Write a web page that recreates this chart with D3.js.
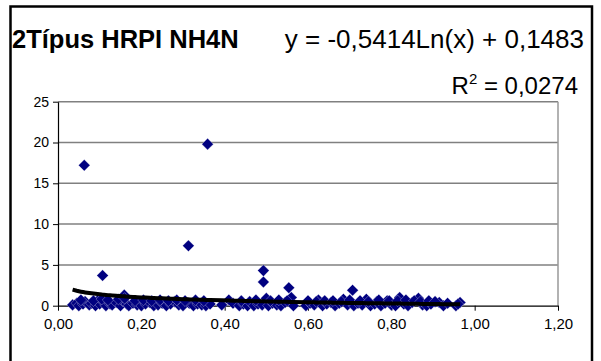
<!DOCTYPE html>
<html><head><meta charset="utf-8">
<script src="https://cdn.jsdelivr.net/npm/d3@7"></script>
<style>body{margin:0;background:#fff}text{font-family:Arial,"Liberation Sans",sans-serif}</style>
</head><body><svg id="c" width="601" height="361"></svg>
<script>
const titleText = "2Típus HRPI NH4N";
const equationText = "y = -0,5414Ln(x) + 0,1483";
const r2Value = "0,0274";
const trendCoef = [-0.5414, 0.1483];
const xTicks = [0, 0.2, 0.4, 0.6, 0.8, 1.0, 1.2];
const yTicks = [0, 5, 10, 15, 20, 25];
const xs = [0.063,0.359,0.313,0.107,0.493,0.493,0.554,0.707,0.159,
 0.035,0.045,0.05,0.06,0.065,0.075,0.08,0.09,0.095,0.10,0.11,0.115,0.125,0.13,0.14,0.15,0.155,0.165,0.17,0.18,0.19,0.20,0.21,0.22,0.23,0.24,0.25,0.26,0.27,0.28,0.29,0.30,0.315,0.325,0.335,0.345,0.355,0.365,
 0.393,0.41,0.42,0.435,0.445,0.455,0.46,0.47,0.48,0.49,0.50,0.505,0.515,0.525,0.535,0.545,0.56,0.565,
 0.595,0.605,0.615,0.625,0.635,0.645,0.655,0.665,0.675,0.685,0.695,0.71,0.72,0.73,0.74,0.75,0.76,0.765,0.775,0.785,0.79,0.80,0.81,0.82,0.83,0.84,0.85,0.865,0.875,0.885,0.895,0.915,0.925,0.955,0.965,
 0.055,0.085,0.105,0.12,0.145,0.16,0.185,0.205,0.225,0.245,0.265,0.285,0.305,0.33,0.35,0.44,0.475,0.51,0.53,0.55,0.60,0.62,0.64,0.66,0.68,0.70,0.725,0.745,0.77,0.795,0.815,0.835,0.855,0.87,0.89,0.905,0.935,0.96];
const ys = [17.2,19.8,7.35,3.7,4.3,2.9,2.2,1.9,1.3,
 0.1,0.3,0.0,0.2,0.5,0.1,0.3,0.0,0.6,0.2,0.4,0.0,0.2,0.1,0.4,0.0,0.6,0.2,0.0,0.3,0.1,0.0,0.2,0.4,0.0,0.1,0.3,0.0,0.2,0.5,0.1,0.0,0.3,0.0,0.2,0.1,0.0,0.2,
 0.1,0.7,0.3,0.0,0.2,0.0,0.5,0.0,0.2,0.1,0.9,0.0,0.3,0.1,0.0,0.4,1.0,0.0,
 0.0,0.3,0.1,0.7,0.0,0.2,0.4,0.0,0.3,0.8,0.1,0.0,0.3,0.1,0.8,0.0,0.2,0.5,0.0,0.3,0.6,0.1,0.0,1.0,0.2,0.0,0.4,0.9,0.1,0.0,0.2,0.4,0.0,0.0,0.4,
 0.7,0.6,0.8,0.7,0.8,0.9,0.6,0.7,0.6,0.7,0.6,0.7,0.6,0.7,0.6,0.6,0.7,0.6,0.7,0.6,0.6,0.5,0.6,0.6,0.5,0.7,0.6,0.5,0.7,0.6,0.6,0.7,0.6,0.5,0.6,0.5,0.3,0.2];

const svg = d3.select("#c");
svg.append("rect").attr("x",0).attr("y",0).attr("width",601).attr("height",361).attr("fill","#fff");
svg.append("rect").attr("x",10.5).attr("y",6.5).attr("width",581.5).attr("height",362)
  .attr("fill","none").attr("stroke","#000").attr("stroke-width",2.5);

const L=58,R=558,T=101.7,B=305.7;
const x = d3.scaleLinear().domain([0,1.2]).range([L,R]);
const y = d3.scaleLinear().domain([0,25]).range([B,T]);

svg.append("g").selectAll("line").data(yTicks.filter(d=>d>0)).join("line")
  .attr("x1",L).attr("x2",R).attr("y1",d=>y(d)).attr("y2",d=>y(d))
  .attr("stroke","#808080").attr("stroke-width",1.5);
svg.append("line").attr("x1",R).attr("x2",R).attr("y1",T).attr("y2",B)
  .attr("stroke","#999").attr("stroke-width",1.5);

const fmtX = d => d3.format(".2f")(d).replace(".",",");
const gx = svg.append("g").attr("transform",`translate(0,${B})`)
  .call(d3.axisBottom(x).tickValues(xTicks).tickFormat(fmtX).tickSize(5).tickSizeOuter(0));
gx.select(".domain").attr("stroke","#000").attr("stroke-width",1.2);
gx.selectAll(".tick line").attr("stroke","#000");
gx.selectAll("text").attr("font-size",15).attr("fill","#000").attr("dy","1.0em").attr("font-family","Arial, Liberation Sans");
const gy = svg.append("g").attr("transform",`translate(${L},0)`)
  .call(d3.axisLeft(y).tickValues(yTicks).tickSize(5).tickSizeOuter(0));
gy.select(".domain").attr("stroke","#000").attr("stroke-width",1.2);
gy.selectAll(".tick line").attr("stroke","#000");
gy.selectAll("text").attr("font-size",14).attr("fill","#000").attr("x",-9).attr("font-family","Arial, Liberation Sans");

const pts = xs.map((v,i)=>({x:v,y:ys[i]}));
svg.append("g").selectAll("path").data(pts).join("path")
  .attr("d", d3.symbol().type(d3.symbolDiamond2).size(85))
  .attr("transform", d=>`translate(${x(d.x)},${y(d.y)})`)
  .attr("fill","#000080").attr("stroke","#fff").attr("stroke-width",0.3);

const sx = xs.slice().sort((a,b)=>a-b);
const trend = sx.map(v=>({x:v,y:trendCoef[0]*Math.log(v)+trendCoef[1]}));
svg.append("path").datum(trend)
  .attr("d", d3.line().x(d=>x(d.x)).y(d=>y(d.y)))
  .attr("fill","none").attr("stroke","#000").attr("stroke-width",4);

svg.append("text").attr("x",12).attr("y",48).attr("font-size",25.5).attr("font-weight","bold").text(titleText);
svg.append("text").attr("x",584).attr("y",48).attr("font-size",26).attr("text-anchor","end").text(equationText);
const r2 = svg.append("text").attr("x",578).attr("y",94).attr("font-size",24).attr("text-anchor","end");
r2.append("tspan").text("R");
r2.append("tspan").attr("font-size",15).attr("dy",-10).text("2");
r2.append("tspan").attr("dy",10).text(" = " + r2Value);
</script></body></html>
